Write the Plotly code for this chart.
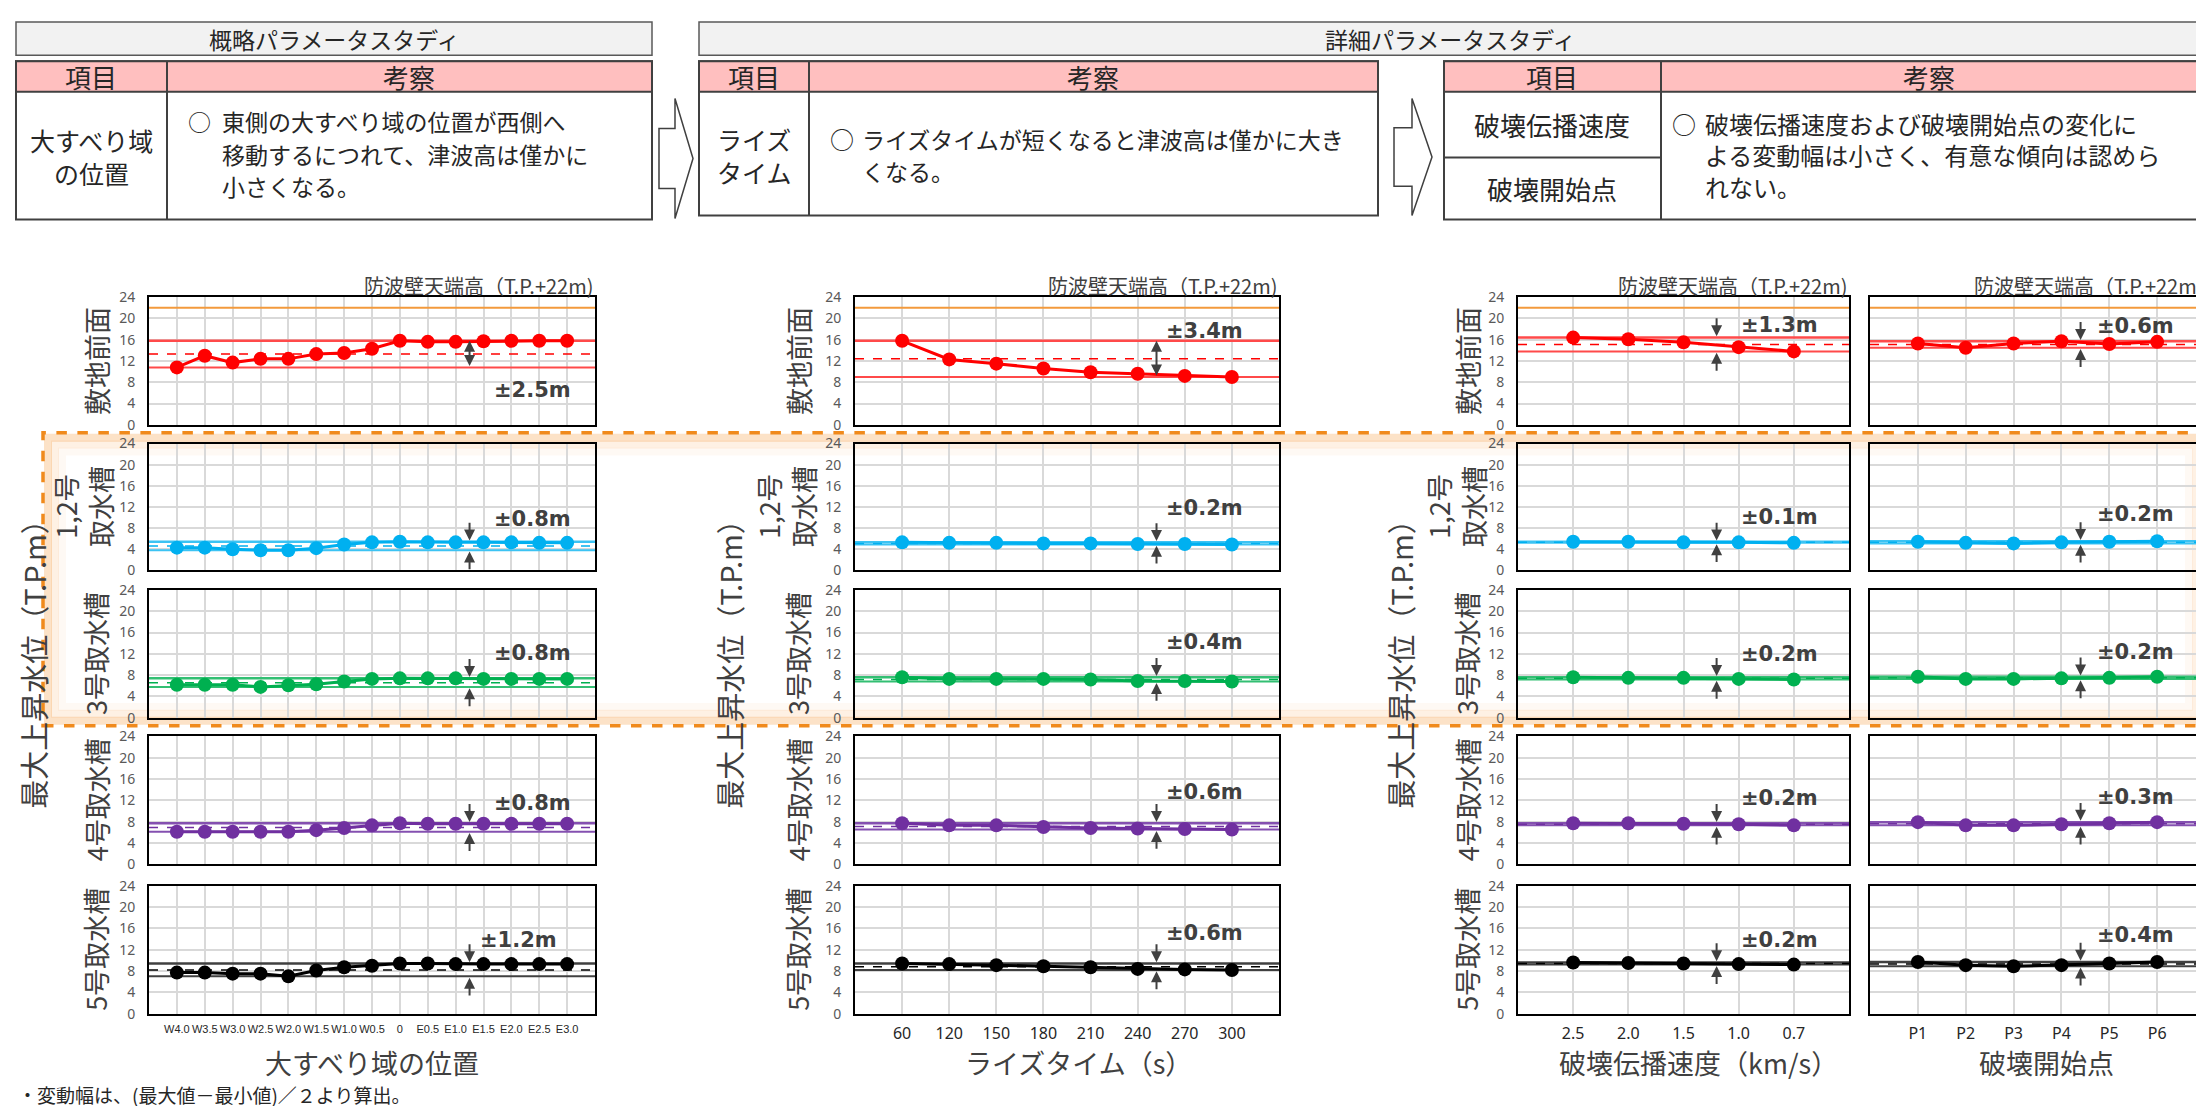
import plotly.graph_objects as go

W, H = 2204, 1106
JP = "Noto Sans CJK JP"

# ---------------- data ----------------
pos_labels = ["W4.0", "W3.5", "W3.0", "W2.5", "W2.0", "W1.5", "W1.0", "W0.5", "0",
              "E0.5", "E1.0", "E1.5", "E2.0", "E2.5", "E3.0"]
rise_labels = ["60", "120", "150", "180", "210", "240", "270", "300"]
speed_labels = ["2.5", "2.0", "1.5", "1.0", "0.7"]
start_labels = ["P1", "P2", "P3", "P4", "P5", "P6"]

row_names = ["敷地前面", "1,2号<br>取水槽", "3号取水槽", "4号取水槽", "5号取水槽"]

pos_site = [10.8, 13.0, 11.7, 12.4, 12.4, 13.3, 13.5, 14.3, 15.8, 15.6, 15.6, 15.7, 15.8, 15.8, 15.8]
pos_in12 = [4.3, 4.3, 4.0, 3.8, 3.8, 4.2, 4.9, 5.3, 5.4, 5.3, 5.3, 5.3, 5.3, 5.2, 5.2]
pos_in3 = [6.2, 6.2, 6.2, 5.8, 6.1, 6.3, 6.8, 7.3, 7.4, 7.4, 7.4, 7.3, 7.3, 7.3, 7.3]
pos_in4 = [6.1, 6.1, 6.1, 6.1, 6.1, 6.4, 6.8, 7.3, 7.7, 7.6, 7.6, 7.6, 7.6, 7.6, 7.6]
pos_in5 = [7.7, 7.7, 7.5, 7.5, 7.0, 8.1, 8.7, 9.0, 9.4, 9.4, 9.3, 9.3, 9.3, 9.3, 9.3]

rise_site = [15.8, 12.3, 11.5, 10.6, 9.9, 9.6, 9.2, 9.0]
rise_in12 = [5.3, 5.2, 5.2, 5.1, 5.1, 5.0, 5.0, 4.9]
rise_in3 = [7.6, 7.3, 7.3, 7.3, 7.2, 6.9, 6.9, 6.8]
rise_in4 = [7.7, 7.3, 7.3, 7.0, 6.8, 6.7, 6.6, 6.5]
rise_in5 = [9.4, 9.3, 9.1, 8.9, 8.7, 8.4, 8.3, 8.2]

speed_site = [16.4, 16.1, 15.5, 14.6, 13.8]
speed_in12 = [5.4, 5.4, 5.3, 5.3, 5.2]
speed_in3 = [7.6, 7.5, 7.5, 7.3, 7.2]
speed_in4 = [7.7, 7.7, 7.6, 7.5, 7.3]
speed_in5 = [9.6, 9.5, 9.4, 9.3, 9.2]

start_site = [15.3, 14.5, 15.3, 15.7, 15.2, 15.6]
start_in12 = [5.4, 5.2, 5.1, 5.3, 5.4, 5.5]
start_in3 = [7.7, 7.3, 7.3, 7.4, 7.5, 7.7]
start_in4 = [7.9, 7.3, 7.3, 7.5, 7.7, 7.9]
start_in5 = [9.7, 9.1, 8.9, 9.1, 9.4, 9.7]

pos_spread = ["±2.5m", "±0.8m", "±0.8m", "±0.8m", "±1.2m"]
rise_spread = ["±3.4m", "±0.2m", "±0.4m", "±0.6m", "±0.6m"]
speed_spread = ["±1.3m", "±0.1m", "±0.2m", "±0.2m", "±0.2m"]
start_spread = ["±0.6m", "±0.2m", "±0.2m", "±0.3m", "±0.4m"]

x_titles = ["大すべり域の位置", "ライズタイム（s）", "破壊伝播速度（km/s）", "破壊開始点"]
wall_crest = 22
wall_title = "防波壁天端高（T.P.+22m)"
y_title = "最大上昇水位（T.P.m）"

# ---------------- styling / layout ----------------
row_colors = ["#ff0000", "#00b0f0", "#00b050", "#7030a0", "#000000"]
band_colors = ["#ff4a4a", "#3cc3f3", "#33bf73", "#8450b0", "#404040"]
col_px = [(141, 587), (847, 1271), (1510, 1841), (1862, 2197)]
row_px = [(284, 414), (433, 562), (582, 712), (731, 861), (883, 1013)]
arrow_x = [10.5, 5.4, 2.6, 3.4]
label_x = [[11.3, 11.3, 11.3, 11.3, 10.8], [5.55] * 5, [3.0] * 5, [3.7] * 5]
label_y = [[6.5, 9.8, 12.2, 11.5, 13.8],
           [17.7, 11.8, 14.3, 13.5, 15.2],
           [18.7, 10.1, 12.0, 12.4, 13.8],
           [18.6, 10.7, 12.4, 12.7, 14.8]]
tick_fonts = [dict(size=11, family="Liberation Sans Narrow, Liberation Sans", color="#262626"),
              dict(size=16, family="Noto Sans", color="#262626"),
              dict(size=16, family="Liberation Sans Narrow, Noto Sans", color="#262626"),
              dict(size=16, family="Liberation Sans Narrow, Noto Sans", color="#262626")]

columns = [
    (pos_labels, [pos_site, pos_in12, pos_in3, pos_in4, pos_in5], pos_spread),
    (rise_labels, [rise_site, rise_in12, rise_in3, rise_in4, rise_in5], rise_spread),
    (speed_labels, [speed_site, speed_in12, speed_in3, speed_in4, speed_in5], speed_spread),
    (start_labels, [start_site, start_in12, start_in3, start_in4, start_in5], start_spread),
]

fig = go.Figure()
layout_axes = {}
annotations = []
shapes = []


def fx(px):
    return px / W


def fy(py):
    return 1 - py / H


def ptext(x, y, s, size, color="#262626", xanchor="center", angle=0, family=JP):
    annotations.append(dict(x=fx(x), y=fy(y), xref="paper", yref="paper", text=s,
                            showarrow=False, xanchor=xanchor, yanchor="middle",
                            textangle=angle, font=dict(size=size, color=color, family=family)))


for c, (cats, series_list, spreads) in enumerate(columns):
    n = len(cats)
    idx = list(range(n))
    for r in range(5):
        k = r * 4 + c + 1
        xa = "x" if k == 1 else f"x{k}"
        ya = "y" if k == 1 else f"y{k}"
        vals = series_list[r]
        vmax, vmin = max(vals), min(vals)
        vmid = (vmax + vmin) / 2
        col = row_colors[r]
        bcol = band_colors[r]
        edge = [-1, n]
        if r == 0:
            fig.add_trace(go.Scatter(x=edge, y=[wall_crest] * 2, mode="lines",
                                     line=dict(color="#f39a3c", width=2),
                                     xaxis=xa, yaxis=ya, showlegend=False, hoverinfo="skip"))
        fig.add_trace(go.Scatter(x=edge, y=[vmax] * 2, mode="lines",
                                 line=dict(color=bcol, width=2.5),
                                 xaxis=xa, yaxis=ya, showlegend=False, hoverinfo="skip"))
        fig.add_trace(go.Scatter(x=edge, y=[vmin] * 2, mode="lines",
                                 line=dict(color=bcol, width=2),
                                 xaxis=xa, yaxis=ya, showlegend=False, hoverinfo="skip"))
        fig.add_trace(go.Scatter(x=edge, y=[vmid] * 2, mode="lines",
                                 line=dict(color=col, width=1.5, dash="dash"),
                                 xaxis=xa, yaxis=ya, showlegend=False, hoverinfo="skip"))
        fig.add_trace(go.Scatter(x=idx, y=vals, mode="lines+markers",
                                 line=dict(color=col, width=3),
                                 marker=dict(color=col, size=14),
                                 xaxis=xa, yaxis=ya, showlegend=False))

        x0, x1 = col_px[c]
        y0, y1 = row_px[r]
        axis_common = dict(showline=True, mirror=True, linecolor="#000000", linewidth=2,
                           showgrid=True, gridcolor="#d9d9d9", gridwidth=2, zeroline=False,
                           fixedrange=True)
        layout_axes["xaxis" if k == 1 else f"xaxis{k}"] = dict(
            domain=[fx(x0), fx(x1)], range=[-1, n], tickmode="array", tickvals=idx,
            ticktext=cats, showticklabels=(r == 4), tickfont=tick_fonts[c], tickangle=0,
            ticks="outside", ticklen=4, tickcolor="rgba(0,0,0,0)",
            anchor=ya, **axis_common)
        layout_axes["yaxis" if k == 1 else f"yaxis{k}"] = dict(
            domain=[fy(y1), fy(y0)], range=[0, 24], tickmode="array",
            tickvals=[0, 4, 8, 12, 16, 20, 24], showticklabels=(c < 3),
            tickfont=dict(size=14, color="#595959", family="Noto Sans"),
            ticks="outside", ticklen=9, tickcolor="rgba(0,0,0,0)",
            anchor=xa, **axis_common)

        # spread label
        annotations.append(dict(x=label_x[c][r], y=label_y[c][r], xref=xa, yref=ya,
                                text=f"<b>{spreads[r]}</b>", showarrow=False,
                                xanchor="left", yanchor="middle",
                                font=dict(size=21, color="#404040", family="DejaVu Sans")))
        ax = arrow_x[c]
        arrow_style = dict(arrowcolor="#404040", arrowwidth=2, arrowhead=2, arrowsize=1.1,
                           showarrow=True, text="", xref=xa, yref=ya, axref=xa, ayref=ya)
        if r == 0 and c < 2:
            annotations.append(dict(x=ax, y=vmax, ax=ax, ay=vmin, arrowside="end+start",
                                    **arrow_style))
        else:
            annotations.append(dict(x=ax, y=vmax + 0.25, ax=ax, ay=vmax + 3.9, **arrow_style))
            annotations.append(dict(x=ax, y=vmin - 0.25, ax=ax, ay=vmin - 3.9, **arrow_style))

    # column titles / axis titles
    ptext(col_px[c][1], 272, wall_title, 20, color="#404040", xanchor="right")
    x_title_pos = [364, 1070, 1690, 2038][c]
    ptext(x_title_pos, 1063, x_titles[c], 27, color="#404040")

# row titles (rotated) for first three column groups
row_title_x = [(88, 75), (790, 778), (1459, 1448)]
for g, (xs, xd) in enumerate(row_title_x):
    for r in range(5):
        yc = (row_px[r][0] + row_px[r][1]) / 2
        ptext(xd if r == 1 else xs, yc, row_names[r], 27, color="#404040", angle=-90)
for xb in [25, 721, 1392]:
    ptext(xb, 650, y_title, 29, color="#404040", angle=-90)

# footnote
ptext(8, 1095, "・変動幅は、(最大値－最小値)／２より算出。", 19, xanchor="left")


# ---------------- header tables ----------------
def rect(x0, y0, x1, y1, fill="rgba(0,0,0,0)", line="#404040", width=2, layer="above", dash=None):
    d = dict(type="rect", xref="paper", yref="paper", x0=fx(x0), x1=fx(x1), y0=fy(y1), y1=fy(y0),
             fillcolor=fill, line=dict(color=line, width=width), layer=layer)
    if dash:
        d["line"]["dash"] = dash
    shapes.append(d)


def hline(x0, x1, y, color="#404040", width=2):
    shapes.append(dict(type="line", xref="paper", yref="paper", x0=fx(x0), x1=fx(x1),
                       y0=fy(y), y1=fy(y), line=dict(color=color, width=width)))


def vline(x, y0, y1, color="#404040", width=2):
    shapes.append(dict(type="line", xref="paper", yref="paper", x0=fx(x), x1=fx(x),
                       y0=fy(y0), y1=fy(y1), line=dict(color=color, width=width)))


def arrow_shape(xl, xb, xt, yt, yb):
    ym = (yt + yb) / 2
    h = yb - yt
    s0, s1 = yt + h * 0.25, yt + h * 0.75
    pts = [(xl, s0), (xb, s0), (xb, yt), (xt, ym), (xb, yb), (xb, s1), (xl, s1)]
    path = "M " + " L ".join(f"{fx(a):.5f},{fy(b):.5f}" for a, b in pts) + " Z"
    shapes.append(dict(type="path", xref="paper", yref="paper", path=path,
                       fillcolor="#ffffff", line=dict(color="#404040", width=1.5)))


# orange highlight box with glow
for inset, alpha, wd in [(5, 0.25, 8), (12, 0.12, 8), (19, 0.05, 8)]:
    rect(35 + inset, 422 + inset, 2200 - inset, 720 - inset, line=f"rgba(245,140,30,{alpha})",
         width=wd, layer="below")
rect(35, 422, 2200, 720, line="#f08a1c", width=3.5, dash="dash")

# box A & B
rect(8, 4, 644, 38, fill="#f2f2f2", line="#595959", width=1.5)
ptext(326, 21, "概略パラメータスタディ", 23)
rect(691, 4, 2192, 38, fill="#f2f2f2", line="#595959", width=1.5)
ptext(1442, 21, "詳細パラメータスタディ", 23)

# table 1
rect(8, 44, 644, 205, fill="#ffffff", width=2)
rect(8, 44, 644, 75, fill="#ffbfbf", width=2)
vline(159, 44, 205)
ptext(83, 60, "項目", 26)
ptext(401, 60, "考察", 26)
ptext(83, 124, "大すべり域", 25)
ptext(83, 158, "の位置", 25)
ptext(178, 105, "○", 23, xanchor="left")
ptext(212, 105, "東側の大すべり域の位置が西側へ", 23, xanchor="left")
ptext(212, 138, "移動するにつれて、津波高は僅かに", 23, xanchor="left")
ptext(212, 171, "小さくなる。", 23, xanchor="left")
arrow_shape(651, 667, 685, 82, 204)

# table 2
rect(691, 44, 1370, 201, fill="#ffffff", width=2)
rect(691, 44, 1370, 75, fill="#ffbfbf", width=2)
vline(801, 44, 201)
ptext(746, 60, "項目", 26)
ptext(1085, 60, "考察", 26)
ptext(746, 123, "ライズ", 25)
ptext(746, 157, "タイム", 25)
ptext(820, 123, "○", 24, xanchor="left")
ptext(852, 123, "ライズタイムが短くなると津波高は僅かに大き", 23, xanchor="left")
ptext(852, 156, "くなる。", 23, xanchor="left")
arrow_shape(1386, 1404, 1424, 82, 201)

# table 3
rect(1436, 44, 2190, 205, fill="#ffffff", width=2)
rect(1436, 44, 2190, 75, fill="#ffbfbf", width=2)
vline(1653, 44, 205)
hline(1436, 1653, 142)
ptext(1544, 60, "項目", 26)
ptext(1921, 60, "考察", 26)
ptext(1544, 108, "破壊伝播速度", 26)
ptext(1544, 173, "破壊開始点", 26)
ptext(1662, 107, "○", 24, xanchor="left")
ptext(1695, 107, "破壊伝播速度および破壊開始点の変化に", 24, xanchor="left")
ptext(1695, 139, "よる変動幅は小さく、有意な傾向は認めら", 24, xanchor="left")
ptext(1695, 171, "れない。", 24, xanchor="left")

fig.update_layout(
    width=W, height=H, margin=dict(l=0, r=0, t=0, b=0),
    paper_bgcolor="#ffffff", plot_bgcolor="#ffffff",
    showlegend=False, font=dict(family=JP, color="#262626"),
    annotations=annotations, shapes=shapes, **layout_axes,
)

fig.write_html("out.html")
